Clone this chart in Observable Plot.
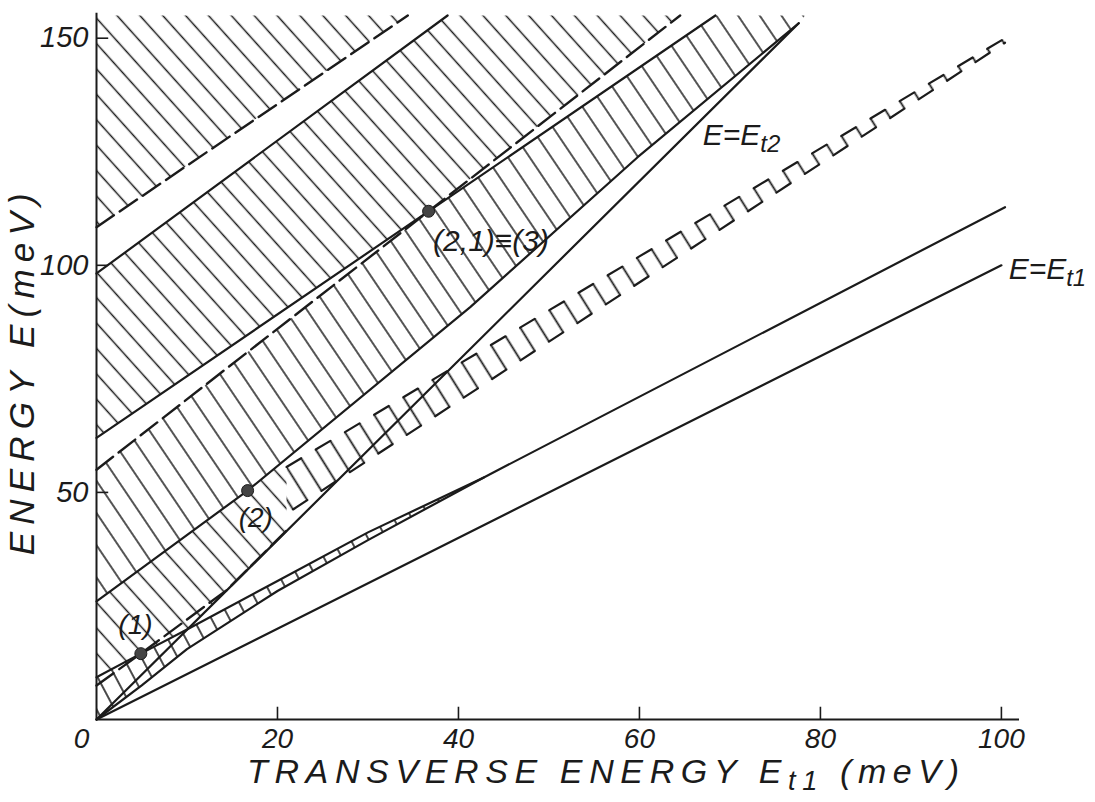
<!DOCTYPE html>
<html><head><meta charset="utf-8">
<script src="https://cdn.jsdelivr.net/npm/d3@7"></script>
<script src="https://cdn.jsdelivr.net/npm/@observablehq/plot@0.6"></script>
<style>
html,body{margin:0;padding:0;background:#fff;}
svg text{font-family:"Liberation Sans",Arial,sans-serif;font-style:italic;}
</style></head><body><div id="chart"></div>
<script>
// ---- axis ticks ----
const xTicks = [0, 20, 40, 60, 80, 100];
const yTicks = [50, 100, 150];

// ---- solid curves [Et1, E] ----
const et1Line = [[0, 0], [100, 100]];
const et2Line = [[0, 0], [77.6, 153.3]];
const solidTop = [[0, 98.2], [38.8, 155]];
const solidMid = [[0, 62], [68.4, 155]];
const solidLow = [[0, 26], [16.7, 50.4], [41.3, 90.8], [59.8, 123.8], [77.6, 153.3]];

// ---- dashed curves ----
const dashedTop = [[0, 108.4], [34.4, 155]];
const dashedMid = [[0, 55], [64.5, 155]];
const dashedLow = [[0, 7.5], [4.9, 14.5], [14.4, 28.5], [21, 41.6]];

// ---- ladder band (near E = Et1) ----
const ladderUpper = [[0, 9.3], [4.9, 14.5], [10, 19.8], [20, 30.5], [30, 41.2], [42.8, 53.3], [100.4, 112.8]];
const ladderLower = [[0, 0], [5, 7.5], [10, 15.5], [20, 28.3], [30, 39.5], [42.8, 53.3]];

// ---- square-wave band ----
const waveUpper = [[21, 55.6], [100.4, 150]];
const waveLower = [[21, 45.3], [100.4, 149]];

// ---- crossing points and annotations ----
const crossPoints = [[4.9, 14.5], [16.7, 50.4], [36.7, 111.9]];
const pointLabels = ["(1)", "(2)"];
const pointLabelX = [4.3, 17.6];
const pointLabelY = [20.7, 44.3];
const sideLabels = ["(2,1)≡(3)", "E=E_t2", "E=E_t1"];
const sideLabelX = [37.2, 67.0, 100.8];
const sideLabelY = [105.3, 128.6, 99.2];

// ---- hatched regions (built from the curves above) ----
const region1 = [...dashedTop, [0, 155]];
const region2 = [...solidTop, [64.5, 155], crossPoints[2], [0, 62]];
const region3 = [[0, 55], crossPoints[2], [68.4, 155], [78.3, 155], ...solidLow.slice().reverse()];
const region4 = [[0, 26], [16.7, 50.4], [21, 57.5], [21, 41.6], [10, 19.8], [0, 9.3]];
const ladderBand = [...ladderUpper.slice(0, 6), ...ladderLower.slice().reverse()];
const waveBand = [...waveUpper, ...waveLower.slice().reverse()];

const X = d => d[0], Y = d => d[1];
const ink = "#1b1b1b";
const WAVE = 17; // half period of the square wave, px
const upperDash = `${WAVE},${WAVE}`;
const lowerDash = `${WAVE},${WAVE}.0`;

const poly = (data, pat) => Plot.line(data, {x: X, y: Y, fill: `url(#${pat})`, stroke: "none"});
const solid = (data, w = 2.2) => Plot.line(data, {x: X, y: Y, stroke: ink, strokeWidth: w});
const dashed = (data) => Plot.line(data, {x: X, y: Y, stroke: ink, strokeWidth: 2.4, strokeDasharray: "21,7"});

const svg = Plot.plot({
  width: 1095,
  height: 802,
  marginLeft: 96,
  marginRight: 76,
  marginTop: 15,
  marginBottom: 83,
  x: {domain: [0, 102]},
  y: {domain: [0, 155]},
  style: {background: "#fff", color: ink, overflow: "visible"},
  marks: [
    poly(region1, "hatchA"),
    poly(region2, "hatchA"),
    poly(region3, "hatchB"),
    poly(region4, "hatchA"),
    poly(ladderBand, "rungs"),
    poly(waveBand, "waveRungs"),
    solid(et1Line),
    solid(et2Line),
    solid(solidTop),
    solid(solidMid),
    solid(solidLow),
    solid(ladderUpper),
    solid(ladderLower),
    dashed(dashedTop),
    dashed(dashedMid),
    dashed(dashedLow),
    Plot.line(waveUpper, {x: X, y: Y, stroke: ink, strokeWidth: 2.2, strokeDasharray: upperDash}),
    Plot.line(waveLower, {x: X, y: Y, stroke: ink, strokeWidth: 2.2, strokeDasharray: lowerDash}),
    Plot.dot(crossPoints, {x: X, y: Y, r: 6, fill: "#444", stroke: ink, strokeWidth: 1}),
    Plot.text(pointLabels, {x: (d, i) => pointLabelX[i], y: (d, i) => pointLabelY[i], text: d => d,
      textAnchor: "middle", fontSize: 28, fill: ink}),
    Plot.text(sideLabels, {x: (d, i) => sideLabelX[i], y: (d, i) => sideLabelY[i], text: d => d,
      textAnchor: "start", fontSize: 30, fill: ink}),
    // frame
    Plot.ruleY([0], {x1: 0, x2: 102, stroke: ink, strokeWidth: 2}),
    Plot.ruleX([0], {y1: 0, y2: 155.5, stroke: ink, strokeWidth: 2}),
    // inward ticks
    Plot.ruleX(xTicks.filter(t => t > 0), {y1: 0, y2: 2.7, stroke: ink, strokeWidth: 1.6}),
    Plot.ruleY(yTicks, {x1: 0, x2: 1.35, stroke: ink, strokeWidth: 1.6}),
    Plot.axisX({ticks: xTicks, tickSize: 0, tickPadding: 9, fontSize: 28, label: null}),
    Plot.axisY({ticks: yTicks, tickSize: 0, tickPadding: 8, fontSize: 29, label: null}),
    Plot.text(["TRANSVERSE ENERGY E_t1 (meV)"], {frameAnchor: "bottom", dy: 63, dx: 45, fontSize: 34, fill: ink}),
    Plot.text(["ENERGY E(meV)"], {x: () => -8.2, y: () => 76, rotate: -90, fontSize: 35, fill: ink})
  ]
});

// ---- pattern definitions for the hatching ----
const sx = svg.scale("x"), sy = svg.scale("y");
const toPx = p => [sx.apply(p[0]), sy.apply(p[1])];
const defs = d3.select(svg).insert("defs", ":first-child");
function hatch(id, angle, spacing, w, origin) {
  const p = defs.append("pattern").attr("id", id).attr("patternUnits", "userSpaceOnUse")
    .attr("width", spacing).attr("height", spacing)
    .attr("patternTransform", (origin ? `translate(${origin[0]},${origin[1]}) ` : "") + `rotate(${angle})`);
  p.append("line").attr("x1", spacing / 2).attr("x2", spacing / 2).attr("y1", 0).attr("y2", spacing)
    .attr("stroke", ink).attr("stroke-width", w);
}
hatch("hatchA", -42, 17, 1.5);
hatch("hatchB", -34, 18, 1.5);
hatch("rungs", -28, 16, 1.6);

// square-wave rungs aligned with the dashes of the band edges
const P0 = toPx(waveUpper[0]), P1 = toPx(waveUpper[1]);
const Q0 = toPx(waveLower[0]), Q1 = toPx(waveLower[1]);
const ang = (Math.atan2(P1[1] - P0[1], P1[0] - P0[0]) + Math.atan2(Q1[1] - Q0[1], Q1[0] - Q0[0])) / 2;
const u = [Math.cos(ang), Math.sin(ang)];
hatch("waveRungs", ang * 180 / Math.PI, WAVE, 1.8, [P0[0] - u[0] * WAVE / 2, P0[1] - u[1] * WAVE / 2]);
const t0 = (Q0[0] - P0[0]) * u[0] + (Q0[1] - P0[1]) * u[1];
const off = ((t0 - WAVE) % (2 * WAVE) + 2 * WAVE) % (2 * WAVE);
d3.select(svg).selectAll("[stroke-dasharray]").filter(function() {
  return this.getAttribute("stroke-dasharray") === lowerDash;
}).attr("stroke-dashoffset", off);

// ---- subscripts, title lengths, zero label ----
d3.select(svg).selectAll("text").each(function() {
  const t = this.textContent;
  const sel = d3.select(this);
  if (t.includes("_")) {
    const m = t.match(/^(.*)_(\w+)(.*)$/);
    sel.text(null);
    sel.append("tspan").text(m[1]);
    sel.append("tspan").attr("dy", 7).attr("font-size", "0.8em").text(m[2]);
    if (m[3]) sel.append("tspan").attr("dy", -7).text(m[3]);
  }
  if (t.startsWith("TRANSVERSE")) sel.attr("textLength", 712).attr("lengthAdjust", "spacing");
  if (t.startsWith("ENERGY")) sel.attr("textLength", 362).attr("lengthAdjust", "spacing");
});
d3.select(svg).selectAll('g[aria-label="x-axis tick label"] text').filter(function() { return this.textContent === "0"; })
  .attr("dx", -15);

document.getElementById("chart").append(svg);
</script></body></html>
